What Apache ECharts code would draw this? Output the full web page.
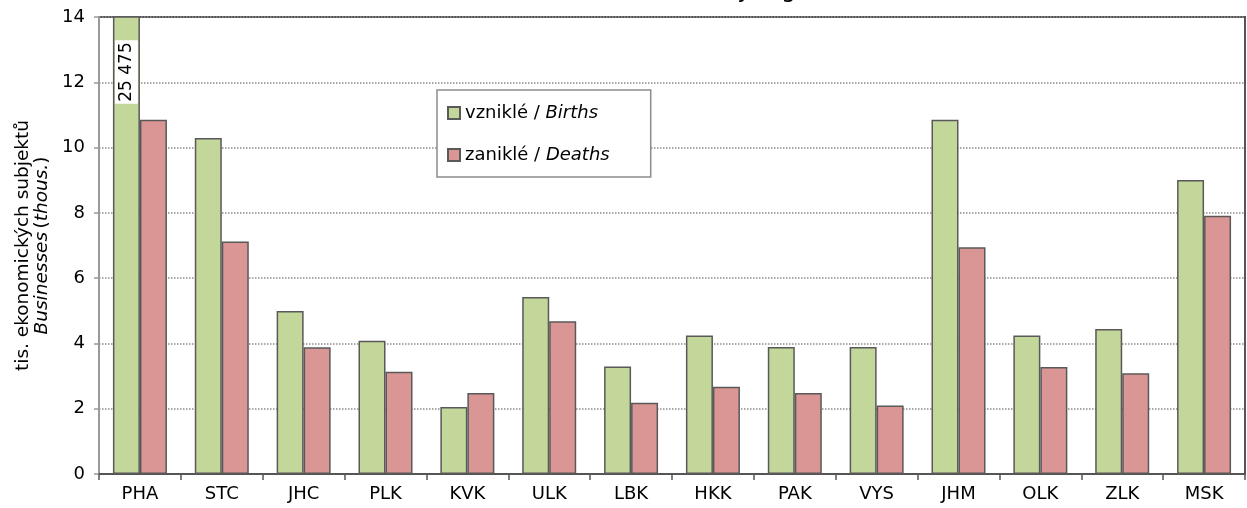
<!DOCTYPE html>
<html>
<head>
<meta charset="utf-8">
<script src="https://cdn.jsdelivr.net/npm/echarts@6/dist/echarts.min.js"></script>
<style>
  html, body { margin: 0; padding: 0; background: #fff; }
  #chart { width: 1247px; height: 508px; }
</style>
</head>
<body>
<div id="chart"></div>
<script>
// kraje / regions
const regions = ['PHA', 'STC', 'JHC', 'PLK', 'KVK', 'ULK', 'LBK', 'HKK', 'PAK', 'VYS', 'JHM', 'OLK', 'ZLK', 'MSK'];
// tis. subjektů
const births = [25.475, 10.29, 4.99, 4.08, 2.05, 5.42, 3.29, 4.24, 3.89, 3.89, 10.85, 4.24, 4.44, 9.01];
const deaths = [10.85, 7.12, 3.88, 3.13, 2.48, 4.68, 2.18, 2.67, 2.48, 2.10, 6.95, 3.28, 3.09, 7.91];
const yTicks = [0, 2, 4, 6, 8, 10, 12, 14];

const font = 'DejaVu Sans';
const edge = '#595959';

// hodnota PHA je mimo osu -> popisek se skutečnou hodnotou
const birthsData = births.map((v, i) => {
    if (v <= yTicks[yTicks.length - 1]) return v;
    return {
        value: v,
        label: {
            show: true,
            position: 'insideTop',
            distance: 24,
            rotate: 90,
            align: 'right',
            verticalAlign: 'middle',
            backgroundColor: '#fff',
            padding: [3, 2, 3, 2],
            color: '#000',
            fontFamily: font,
            fontSize: 17,
            formatter: () => String(Math.round(v * 1000)).replace(/\B(?=(\d{3})+(?!\d))/g, ' ')
        }
    };
});

let option = {
    animation: false,
    title: {
        text: 'Business births and deaths by region',
        right: 416,
        top: -20,
        padding: 0,
        textStyle: { fontFamily: font, fontSize: 23, fontWeight: 'normal', color: '#000' }
    },
    legend: {
        orient: 'vertical',
        left: 437,
        top: 90,
        padding: [14, 41, 13, 10],
        itemGap: 24,
        itemWidth: 12,
        itemHeight: 12,
        icon: 'rect',
        backgroundColor: '#fff',
        borderColor: '#8c8c8c',
        borderWidth: 1.5,
        formatter: name => {
            const p = name.split(' / ');
            return '{a|' + p[0] + ' / }{b|' + p[1] + '}';
        },
        textStyle: {
            rich: {
                a: { fontFamily: font, fontSize: 18, color: '#000' },
                b: { fontFamily: font, fontSize: 18, fontStyle: 'italic', color: '#000' }
            }
        }
    },
    grid: {
        left: 99,
        right: 2,
        top: 17,
        bottom: 34,
        show: true,
        borderColor: '#555',
        borderWidth: 2,
        backgroundColor: 'transparent'
    },
    xAxis: {
        type: 'category',
        data: regions,
        boundaryGap: true,
        axisLine: { lineStyle: { color: '#555', width: 2 } },
        axisTick: { show: true, length: 6, lineStyle: { color: '#555', width: 1.5 } },
        axisLabel: { color: '#000', fontFamily: font, fontSize: 18, margin: 11 },
        splitLine: { show: false }
    },
    yAxis: {
        type: 'value',
        min: yTicks[0],
        max: yTicks[yTicks.length - 1],
        interval: 2,
        name: '{a|tis. ekonomických subjektů}\n{b|Businesses} {a|(}{b|thous.}{a|)}',
        nameLocation: 'middle',
        nameRotate: 90,
        nameGap: 40,
        nameTextStyle: {
            rich: {
                a: { fontFamily: font, fontSize: 18.5, color: '#000', lineHeight: 19 },
                b: { fontFamily: font, fontSize: 18.5, fontStyle: 'italic', color: '#000', lineHeight: 19 }
            }
        },
        axisLine: { show: true, lineStyle: { color: '#999', width: 2 } },
        axisTick: { show: true, length: 5, lineStyle: { color: '#999', width: 1.5 } },
        axisLabel: { color: '#000', fontFamily: font, fontSize: 18, margin: 14 },
        splitLine: { show: true, lineStyle: { color: '#8c8c8c', type: 'dotted', width: 1.5 } }
    },
    series: [{
        name: 'vzniklé / Births',
        type: 'bar',
        data: birthsData,
        barWidth: 27,
        barGap: '0%',
        clip: true,
        itemStyle: { color: '#C4D79B', borderColor: edge, borderWidth: 1.5 }
    }, {
        name: 'zaniklé / Deaths',
        type: 'bar',
        data: deaths,
        barWidth: 27,
        barGap: '0%',
        clip: true,
        itemStyle: { color: '#DA9694', borderColor: edge, borderWidth: 1.5 }
    }]
};

let chartDom = document.getElementById('chart');
if (chartDom) {
    let myChart = echarts.init(chartDom);
    option && myChart.setOption(option);
    window.addEventListener('resize', () => {
        myChart.resize();
    });
}
</script>
</body>
</html>
